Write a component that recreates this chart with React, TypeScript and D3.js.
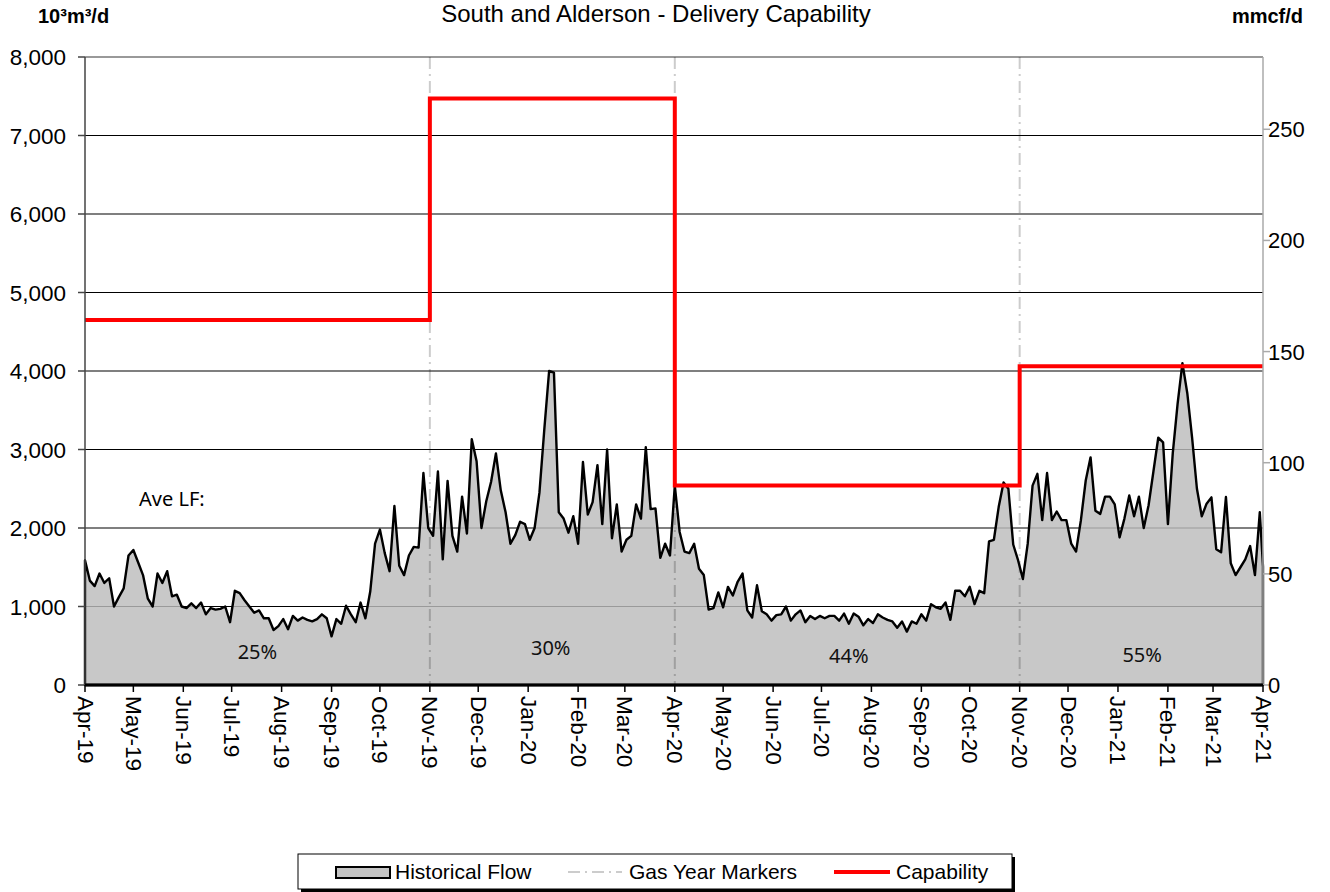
import React from 'react';
import * as d3 from 'd3';

const chartTitle = 'South and Alderson - Delivery Capability';
const startDate = new Date(2019, 3, 1);
const endDate = new Date(2021, 3, 1);
const stepDays = 3;

// Historical flow (10^3 m^3/d), one reading every 3 days from Apr 1, 2019
const flowValues = [
  1590, 1330, 1260, 1420, 1300, 1360, 1000, 1120, 1230, 1650,
  1720, 1560, 1400, 1100, 1000, 1420, 1300, 1450, 1130, 1150,
  1000, 980, 1040, 980, 1050, 900, 980, 960, 970, 1000,
  800, 1200, 1170, 1080, 1000, 920, 950, 850, 850, 700,
  750, 840, 710, 880, 820, 860, 830, 810, 840, 900,
  850, 620, 840, 780, 1010, 900, 800, 1050, 850, 1190,
  1800, 1980, 1680, 1450, 2280, 1520, 1400, 1650, 1760, 1750,
  2700, 2000, 1900, 2720, 1600, 2600, 1900, 1700, 2400, 1930,
  3130, 2850, 2000, 2340, 2590, 2950, 2480, 2200, 1800, 1910,
  2080, 2050, 1850, 2000, 2450, 3250, 4000, 3980, 2200, 2120,
  1940, 2150, 1800, 2840, 2170, 2330, 2800, 2050, 3000, 1870,
  2300, 1700, 1850, 1900, 2300, 2120, 3030, 2240, 2250, 1620,
  1800, 1650, 2540, 1950, 1700, 1680, 1800, 1480, 1400, 960,
  980, 1180, 990, 1250, 1140, 1315, 1420, 950, 860, 1270,
  940, 900, 820, 890, 900, 1000, 820, 900, 950, 800,
  880, 840, 880, 850, 880, 880, 820, 910, 780, 910,
  870, 760, 840, 790, 900, 860, 830, 810, 730, 810,
  680, 810, 780, 900, 820, 1030, 990, 970, 1050, 830,
  1200, 1200, 1130, 1250, 1030, 1200, 1170, 1830, 1850, 2270,
  2580, 2500, 1790, 1590, 1350, 1800, 2540, 2690, 2100, 2700,
  2100, 2210, 2100, 2100, 1800, 1700, 2100, 2605, 2900, 2220,
  2180, 2400, 2400, 2300, 1880, 2120, 2415, 2150, 2400, 2000,
  2290, 2720, 3150, 3090, 2050, 2950, 3580, 4100, 3720, 3150,
  2500, 2150, 2310, 2390, 1730, 1690, 2395, 1550, 1400, 1500,
  1600, 1770, 1400, 2200, 1510,
];

const capabilityStarts = [new Date(2019, 3, 1), new Date(2019, 10, 1), new Date(2020, 3, 1), new Date(2020, 10, 1)];
const capabilityValues = [4650, 7470, 2540, 4060];
const gasYearMarkers = [new Date(2019, 10, 1), new Date(2020, 3, 1), new Date(2020, 10, 1)];
const leftTicks = [0, 1000, 2000, 3000, 4000, 5000, 6000, 7000, 8000];
const rightTicks = [0, 50, 100, 150, 200, 250];
const loadFactorLabels = ['25%', '30%', '44%', '55%'];
const loadFactorDates = [new Date(2019, 6, 17), new Date(2020, 0, 15), new Date(2020, 6, 18), new Date(2021, 0, 16)];
const M3_PER_MMCF = 28.3168;

export default function App() {
  const W = 1330;
  const H = 892;
  const L = 85, R = 1263, T = 57, B = 685;
  const x = d3.scaleTime().domain([startDate, endDate]).range([L, R]);
  const y = d3.scaleLinear().domain([0, 8000]).range([B, T]);
  const y2 = d3.scaleLinear().domain([0, 8000 / M3_PER_MMCF]).range([B, T]);

  const pts: [Date, number][] = flowValues.map((v, i) => {
    const d = d3.timeDay.offset(startDate, i * stepDays);
    return [d > endDate ? endDate : d, v];
  });
  const areaGen = d3.area<[Date, number]>().x(d => x(d[0])).y0(y(0)).y1(d => y(d[1]));
  const areaPath = areaGen(pts) || '';

  const capPts: [Date, number][] = capabilityStarts.map((d, i) => [d, capabilityValues[i]]);
  capPts.push([endDate, capabilityValues[capabilityValues.length - 1]]);
  const capPath = d3.line<[Date, number]>().x(d => x(d[0])).y(d => y(d[1])).curve(d3.curveStepAfter)(capPts) || '';

  const months = d3.timeMonth.range(startDate, d3.timeDay.offset(endDate, 1));
  const fmt = d3.timeFormat('%b-%y');
  const fmtNum = d3.format(',');
  const font = 'Arial, "Liberation Sans", sans-serif';
  const font2 = '"Noto Sans", "Open Sans", sans-serif';

  return (
    <svg width={W} height={H} style={{ position: 'absolute', left: 0, top: 0, display: 'block', background: '#fff' }}>
      {leftTicks.filter(t => t > 0 && t < 8000).map(t => (
        <line key={'g' + t} x1={L} x2={R} y1={y(t)} y2={y(t)} stroke="#000" strokeWidth={1.2} />
      ))}
      <line x1={L} x2={R} y1={T} y2={T} stroke="#777" strokeWidth={1.5} />
      <path d={areaPath} fill="#bcbcbc" fillOpacity={0.82} stroke="none" />
      {gasYearMarkers.map((d, i) => (
        <line key={'m' + i} x1={x(d)} x2={x(d)} y1={T} y2={B} stroke="rgba(0,0,0,0.2)" strokeWidth={2} strokeDasharray="12,5,2,5" />
      ))}
      <path d={areaPath} fill="none" stroke="#000" strokeWidth={2.4} strokeLinejoin="round" />
      <path d={capPath} fill="none" stroke="#ff0000" strokeWidth={4} />
      <line x1={L} x2={L} y1={T} y2={B} stroke="#444" strokeWidth={1.5} />
      <line x1={R} x2={R} y1={T} y2={B} stroke="#aaa" strokeWidth={1.5} />
      <line x1={L} x2={R} y1={B} y2={B} stroke="#000" strokeWidth={3} />
      {leftTicks.map(t => (
        <g key={'l' + t}>
          <line x1={L - 7} x2={L} y1={y(t)} y2={y(t)} stroke="#444" strokeWidth={1.5} />
          <text x={66} y={y(t) + 8} textAnchor="end" fontFamily={font} fontSize={22.5} fill="#000">{fmtNum(t)}</text>
        </g>
      ))}
      {rightTicks.map(t => (
        <g key={'r' + t}>
          <line x1={R} x2={R + 7} y1={y2(t)} y2={y2(t)} stroke="#aaa" strokeWidth={1.5} />
          <text x={1268} y={y2(t) + 8} textAnchor="start" fontFamily={font} fontSize={22} fill="#000">{t}</text>
        </g>
      ))}
      {months.map((d, i) => (
        <g key={'x' + i}>
          <line x1={x(d)} x2={x(d)} y1={B} y2={B + 7} stroke="#000" strokeWidth={1.5} />
          <text transform={`translate(${x(d)},${B + 11}) rotate(90)`} textAnchor="start" dominantBaseline="central" fontFamily={font} fontSize={22.5} fill="#000">{fmt(d)}</text>
        </g>
      ))}
      <text x={656} y={22} textAnchor="middle" fontFamily={font} fontSize={24} fill="#000">{chartTitle}</text>
      <text x={38} y={23} fontFamily={font} fontSize={20} fontWeight="bold" fill="#000">10³m³/d</text>
      <text x={1303} y={23} textAnchor="end" fontFamily={font} fontSize={20} fontWeight="bold" fill="#000">mmcf/d</text>
      <text x={139} y={506} fontFamily={font2} fontSize={20} fill="#000">Ave LF:</text>
      {loadFactorLabels.map((s, i) => (
        <text key={'lf' + i} x={x(loadFactorDates[i])} y={[659, 655, 663, 662][i]} textAnchor="middle" fontFamily={font2} fontSize={20} fill="#111">{s}</text>
      ))}
      <g>
        <rect x={301} y={857} width={714} height={35} fill="#000" />
        <rect x={298} y={854} width={714} height={35} fill="#fff" stroke="#000" strokeWidth={1} />
        <rect x={336} y={867} width={54} height={11} fill="#c4c4c4" stroke="#000" strokeWidth={2} />
        <text x={395} y={879} fontFamily={font} fontSize={21} fill="#000">Historical Flow</text>
        <line x1={568} x2={622} y1={872} y2={872} stroke="#ccc" strokeWidth={2} strokeDasharray="12,5,2,5" />
        <text x={629} y={879} fontFamily={font} fontSize={21} fill="#000">Gas Year Markers</text>
        <line x1={834} x2={890} y1={872} y2={872} stroke="#ff0000" strokeWidth={4} />
        <text x={896} y={879} fontFamily={font} fontSize={21} fill="#000">Capability</text>
      </g>
    </svg>
  );
}
